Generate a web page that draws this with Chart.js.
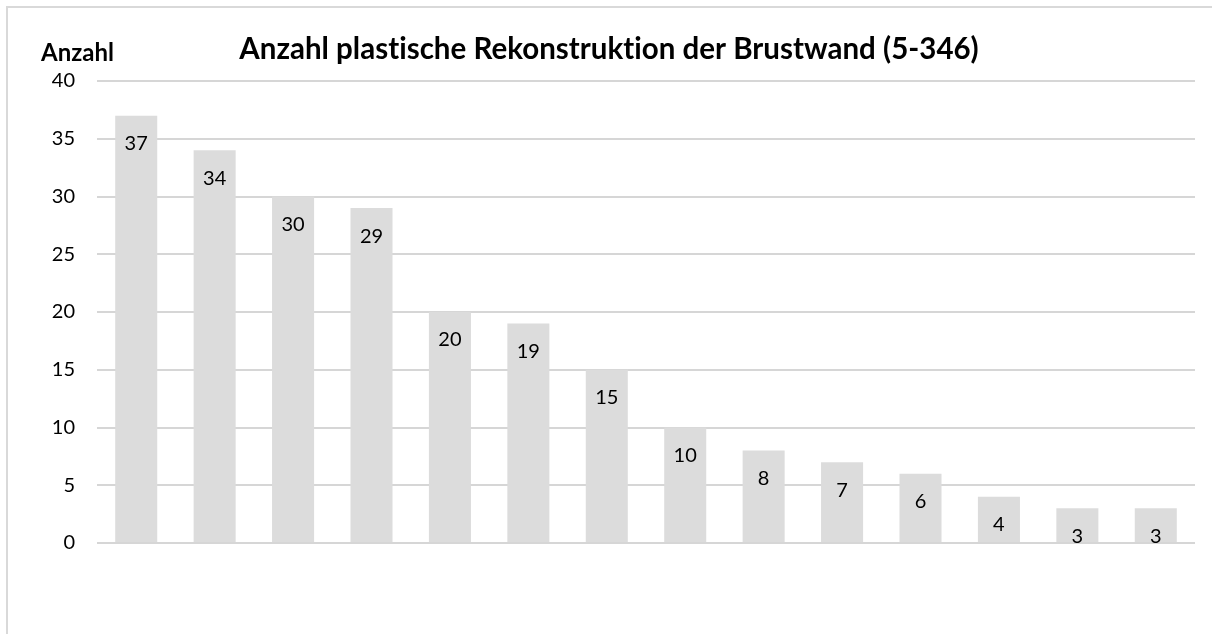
<!DOCTYPE html>
<html>
<head>
<meta charset="utf-8">
<script src="https://cdn.jsdelivr.net/npm/chart.js@4/dist/chart.umd.min.js"></script>
<style>
  html, body { margin: 0; padding: 0; background: #fff; }
  #wrap { position: relative; width: 1212px; height: 634px; overflow: hidden; }
  #frame { position: absolute; left: 6px; top: 6px; width: 1220px; height: 660px; border: 2px solid #D9D9D9; box-sizing: border-box; pointer-events: none; }
  canvas { position: absolute; left: 0; top: 0; }
</style>
</head>
<body>
<div id="wrap">
  <canvas id="c" width="1212" height="634"></canvas>
  <div id="frame"></div>
</div>
<script>
const titleText = 'Anzahl plastische Rekonstruktion der Brustwand (5-346)';
const yAxisTitle = 'Anzahl';
const categories = ['1','2','3','4','5','6','7','8','9','10','11','12','13','14'];
const values = [37, 34, 30, 29, 20, 19, 15, 10, 8, 7, 6, 4, 3, 3];
const yTicks = [0, 5, 10, 15, 20, 25, 30, 35, 40];

const FONT = 'Lato, "Open Sans", sans-serif';

const textPlugin = {
  id: 'texts',
  afterDraw(chart) {
    const ctx = chart.ctx;
    ctx.save();
    if ('letterSpacing' in ctx) ctx.letterSpacing = '0.01px';
    // data labels
    const meta = chart.getDatasetMeta(0);
    ctx.font = '20px ' + FONT;
    ctx.fillStyle = '#000';
    ctx.textAlign = 'center';
    ctx.textBaseline = 'middle';
    meta.data.forEach((bar, i) => {
      ctx.fillText(String(values[i]), bar.x, bar.y + 28);
    });
    // title
    ctx.font = 'bold 29.5px ' + FONT;
    ctx.fillText(titleText, 609, 49);
    // axis title
    ctx.font = 'bold 24px ' + FONT;
    ctx.textAlign = 'left';
    ctx.fillText(yAxisTitle, 41, 53);
    ctx.restore();
  }
};

new Chart(document.getElementById('c'), {
  type: 'bar',
  data: {
    labels: categories,
    datasets: [{
      data: values,
      backgroundColor: '#DCDCDC',
      borderWidth: 0,
      categoryPercentage: 1,
      barPercentage: 0.536
    }]
  },
  options: {
    responsive: false,
    animation: false,
    layout: { padding: { left: 0, right: 17, top: 81, bottom: 91 } },
    plugins: { legend: { display: false }, tooltip: { enabled: false }, title: { display: false } },
    scales: {
      x: {
        display: true,
        ticks: { display: false },
        grid: { display: false, drawTicks: false },
        border: { display: false }
      },
      y: {
        z: 1,
        min: 0,
        max: 40,
        afterBuildTicks(scale) { scale.ticks = yTicks.map(v => ({ value: v })); },
        afterFit(scale) { scale.width = 97; },
        ticks: {
          font: { family: FONT, size: 20 },
          color: '#000',
          padding: 22
        },
        grid: { color: 'rgba(200,200,200,0.75)', lineWidth: 2, drawTicks: false },
        border: { display: false }
      }
    }
  },
  plugins: [textPlugin]
});
</script>
</body>
</html>
